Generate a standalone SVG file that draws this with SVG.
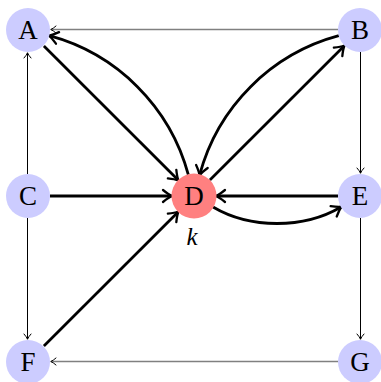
<svg xmlns="http://www.w3.org/2000/svg" width="381" height="382" viewBox="0 0 381 382">
<style>
.node{fill:#ccccff}
.red{fill:#ff8080}
.lbl{font-family:"Liberation Serif",serif;font-size:27px;text-anchor:middle;fill:#000}
.thick{stroke:#000;stroke-width:2.8;fill:none;marker-end:url(#ah)}
.thin{stroke:#000;stroke-width:1;fill:none;marker-end:url(#at)}
.gray{stroke:#808080;stroke-width:1.4;fill:none;marker-end:url(#at)}
</style>
<defs>
<marker id="ah" markerUnits="userSpaceOnUse" viewBox="-11 -8 13 16" markerWidth="13" markerHeight="16" refX="0" refY="0" orient="auto" overflow="visible">
<path d="M -8.5 -6 Q -3 -1.5 0.5 0 Q -3 1.5 -8.5 6" fill="none" stroke="#000" stroke-width="2.3" stroke-linecap="round" stroke-linejoin="round"/>
</marker>
<marker id="at" markerUnits="userSpaceOnUse" viewBox="-7 -5 8 10" markerWidth="8" markerHeight="10" refX="0" refY="0" orient="auto" overflow="visible">
<path d="M -5 -3.5 Q -2 -0.8 0.3 0 Q -2 0.8 -5 3.5" fill="none" stroke="#000" stroke-width="1" stroke-linecap="round" stroke-linejoin="round"/>
</marker>
</defs>
<g id="connectors">
<path class="gray" d="M 338 29.5 L 51 29.5"/>
<path class="gray" d="M 338 361.5 L 51 361.5"/>
<path class="thin" d="M 27.5 174 L 27.5 53"/>
<path class="thin" d="M 27.5 218 L 27.5 339"/>
<path class="thin" d="M 360.5 52 L 360.5 173"/>
<path class="thin" d="M 360.5 218 L 360.5 339"/>
<path class="thick" d="M 43.9 45.9 L 178.1 180.1"/>
<path class="thick" d="M 188.3 174.7 C 170.2 107.1 116.9 53.8 49.3 35.7"/>
<path class="thick" d="M 338.8 35.7 C 271.1 53.8 217.8 107.1 199.7 174.7"/>
<path class="thick" d="M 209.9 180.1 L 344.1 45.9"/>
<path class="thick" d="M 50 196 L 171.5 196"/>
<path class="thick" d="M 338 196 L 216.5 196"/>
<path class="thick" d="M 213 207 C 250.3 229 303.7 229 341 207"/>
<path class="thick" d="M 43.9 346.1 L 178.1 211.9"/>
</g>
<g id="node-A"><circle class="node" cx="28" cy="30" r="22"/><text class="lbl" x="28" y="39">A</text></g>
<g id="node-B"><circle class="node" cx="360" cy="30" r="22"/><text class="lbl" x="360" y="39">B</text></g>
<g id="node-C"><circle class="node" cx="28" cy="196" r="22"/><text class="lbl" x="28" y="205">C</text></g>
<g id="node-D"><circle class="red" cx="194" cy="196" r="22.5"/><text class="lbl" x="194" y="205">D</text><text x="192" y="245" style="font-family:'Liberation Serif',serif;font-style:italic;font-size:25px;text-anchor:middle">k</text></g>
<g id="node-E"><circle class="node" cx="360" cy="196" r="22"/><text class="lbl" x="360" y="205">E</text></g>
<g id="node-F"><circle class="node" cx="28" cy="362" r="22"/><text class="lbl" x="28" y="371">F</text></g>
<g id="node-G"><circle class="node" cx="360" cy="362" r="22"/><text class="lbl" x="360" y="371">G</text></g>
</svg>
